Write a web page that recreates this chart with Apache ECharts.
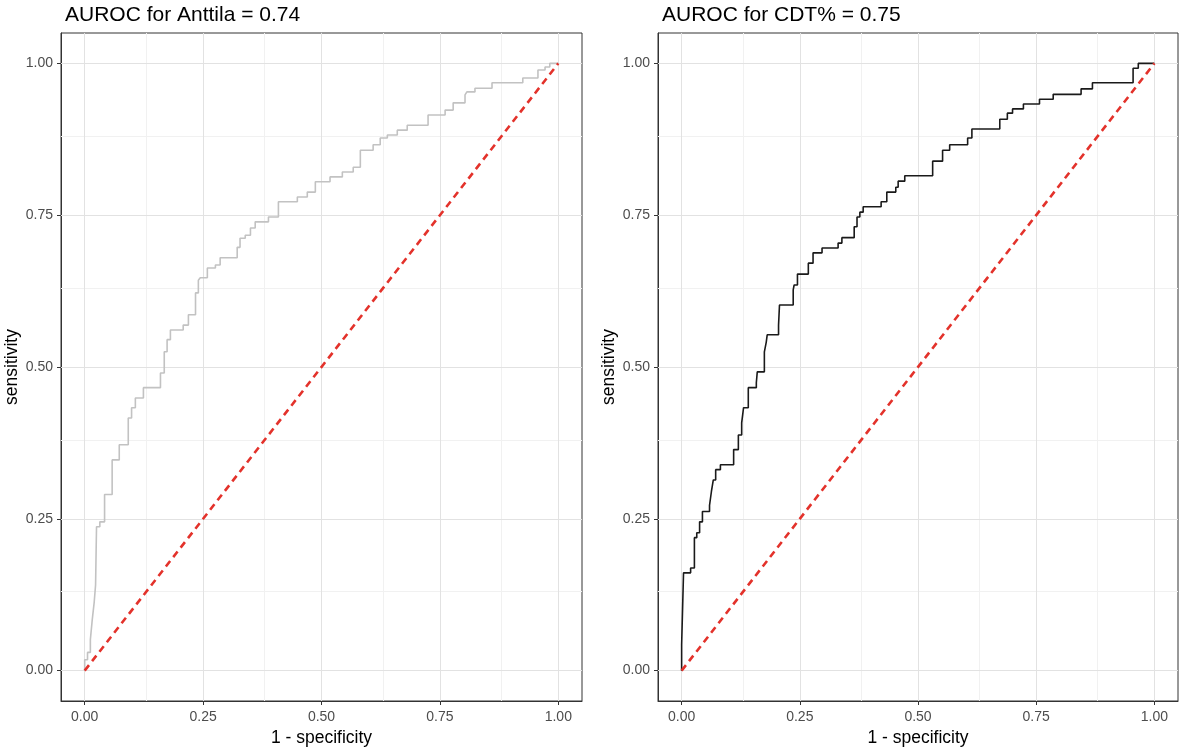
<!DOCTYPE html>
<html><head><meta charset="utf-8">
<script src="https://cdn.jsdelivr.net/npm/echarts@6/dist/echarts.min.js"></script>
<style>html,body{margin:0;padding:0;background:#fff}#c{width:1179px;height:747px}</style>
</head><body><div id="c"></div>
<script>
const titles = ['AUROC for Anttila = 0.74', 'AUROC for CDT% = 0.75'];
const tickValues = [0, 0.25, 0.5, 0.75, 1];
const minorValues = [0.125, 0.375, 0.625, 0.875];
const xAxisTitle = '1 - specificity';
const yAxisTitle = 'sensitivity';

// ROC curves: [1 - specificity, sensitivity]; each point = corner reached (horizontal, then vertical)
const anttila = [
  [0,0],[0,0.018],[0.006,0.030],[0.012,0.051],[0.016,0.084],[0.020,0.112],[0.023,0.141],
  [0.025,0.237],[0.032,0.245],[0.042,0.290],[0.058,0.347],[0.073,0.372],[0.092,0.416],
  [0.099,0.433],[0.107,0.449],[0.124,0.466],[0.160,0.490],[0.168,0.525],[0.174,0.545],
  [0.181,0.561],[0.208,0.569],[0.219,0.586],[0.234,0.622],[0.240,0.643],[0.244,0.647],
  [0.259,0.663],[0.276,0.668],[0.286,0.680],[0.322,0.697],[0.328,0.712],[0.339,0.717],
  [0.350,0.729],[0.360,0.739],[0.388,0.747],[0.409,0.772],[0.449,0.780],[0.470,0.788],
  [0.487,0.805],[0.518,0.813],[0.544,0.821],[0.567,0.829],[0.582,0.857],[0.609,0.866],
  [0.624,0.877],[0.639,0.882],[0.660,0.890],[0.681,0.898],[0.725,0.915],[0.761,0.923],
  [0.778,0.935],[0.803,0.948],[0.807,0.953],[0.824,0.959],[0.860,0.968],[0.925,0.976],
  [0.957,0.989],[0.972,0.994],[0.982,1.000],[1.000,1.000]
];
const cdt = [
  [0,0],[0,0.043],[0.004,0.161],[0.019,0.169],[0.027,0.219],[0.032,0.227],[0.038,0.245],
  [0.044,0.262],[0.059,0.272],[0.063,0.295],[0.067,0.314],[0.072,0.331],[0.082,0.339],
  [0.110,0.364],[0.120,0.388],[0.127,0.408],[0.131,0.433],[0.141,0.466],[0.158,0.474],
  [0.160,0.492],[0.175,0.525],[0.179,0.541],[0.181,0.553],[0.205,0.569],[0.207,0.602],
  [0.236,0.627],[0.238,0.635],[0.245,0.653],[0.268,0.671],[0.278,0.688],[0.297,0.696],
  [0.331,0.704],[0.339,0.713],[0.365,0.731],[0.371,0.747],[0.377,0.755],[0.384,0.764],
  [0.422,0.772],[0.434,0.788],[0.453,0.796],[0.458,0.806],[0.472,0.815],[0.531,0.839],
  [0.552,0.857],[0.567,0.866],[0.605,0.877],[0.614,0.892],[0.673,0.908],[0.689,0.918],
  [0.700,0.925],[0.723,0.933],[0.757,0.941],[0.786,0.949],[0.845,0.958],[0.869,0.968],
  [0.955,0.992],[0.966,1.000],[1.000,1.000]
];
const diagonal = [[0,0],[1,1]];

const FONT = '"Liberation Sans", Arial, Helvetica, sans-serif';
const curves = [anttila, cdt];
const curveColors = ['#c2c2c2', '#1a1a1a'];
const gridPos = [{left: 61, top: 33, width: 521, height: 668}, {left: 658, top: 33, width: 520, height: 668}];

const major = {color: '#e2e2e2', width: 1, type: 'solid'};
const minor = {color: '#f1f1f1', width: 1, type: 'solid'};
const gridLineData = [];
minorValues.forEach(v => { gridLineData.push({xAxis: v, lineStyle: minor}); gridLineData.push({yAxis: v, lineStyle: minor}); });
tickValues.forEach(v => { gridLineData.push({xAxis: v, lineStyle: major}); gridLineData.push({yAxis: v, lineStyle: major}); });

const grid = [], xAxis = [], yAxis = [], series = [], title = [];
[0, 1].forEach(i => {
  grid.push(Object.assign({show: true, borderColor: '#333333', borderWidth: 1, backgroundColor: '#ffffff', containLabel: false, outerBoundsMode: 'none'}, gridPos[i]));
  title.push({text: titles[i], left: gridPos[i].left - 1, top: 0, textStyle: {fontFamily: FONT, fontSize: 21, fontWeight: 'normal', color: '#000'}});
  const common = {
    type: 'value', gridIndex: i, min: -0.05, max: 1.05,
    axisLine: {show: true, onZero: false, lineStyle: {color: '#333333', width: 1}},
    axisTick: {show: true, length: 4, customValues: tickValues, lineStyle: {color: '#333333'}},
    axisLabel: {customValues: tickValues, formatter: v => v.toFixed(2), color: '#4d4d4d', fontSize: 14, fontFamily: FONT},
    splitLine: {show: false},
    nameLocation: 'middle',
    nameTextStyle: {fontFamily: FONT, fontSize: 17.5, color: '#000'}
  };
  xAxis.push(Object.assign({}, common, {name: xAxisTitle, nameGap: 27, axisLabel: Object.assign({}, common.axisLabel, {margin: 9})}));
  yAxis.push(Object.assign({}, common, {name: yAxisTitle, nameGap: 40, axisLabel: Object.assign({}, common.axisLabel, {margin: 8})}));
  series.push({
    type: 'line', xAxisIndex: i, yAxisIndex: i, data: [], z: 1, silent: true,
    markLine: {silent: true, symbol: 'none', z: 1, label: {show: false}, animation: false, lineStyle: {type: 'solid'}, data: gridLineData}
  });
  series.push({
    type: 'line', xAxisIndex: i, yAxisIndex: i, data: curves[i], step: 'end', showSymbol: false, symbol: 'none',
    lineStyle: {color: curveColors[i], width: 1.6}, z: 3, silent: true
  });
  series.push({
    type: 'line', xAxisIndex: i, yAxisIndex: i, data: diagonal, showSymbol: false, symbol: 'none',
    lineStyle: {color: '#e3322b', width: 2.6, type: [7, 5]}, z: 4, silent: true
  });
});

const chart = echarts.init(document.getElementById('c'), null, {renderer: 'canvas'});
chart.setOption({animation: false, backgroundColor: '#ffffff', title, grid, xAxis, yAxis, series});
</script></body></html>
